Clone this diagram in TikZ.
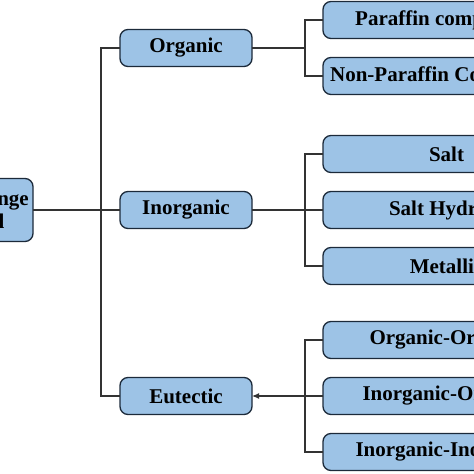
\documentclass[tikz,border=0pt]{standalone}
\usepackage{fontspec}
\setmainfont{Liberation Serif}
\usetikzlibrary{positioning,arrows.meta}
\definecolor{boxblue}{HTML}{9DC3E6}
\definecolor{boxline}{HTML}{1C2A3A}
\definecolor{connline}{HTML}{333333}

\begin{document}
\begin{tikzpicture}[x=1pt, y=-1pt, >={Latex[length=7pt,width=6pt]},
    box/.style={draw=boxline, fill=boxblue, line width=1.3pt, rectangle, rounded corners=8pt,
      font=\fontsize{21}{23.5}\selectfont\bfseries, align=center, inner sep=0pt, outer sep=0pt},
    midbox/.style={box, minimum width=132pt, minimum height=37pt},
    leafbox/.style={box, minimum width=247pt, minimum height=37pt},
    conn/.style={draw=connline, line width=1.1pt}]

  \useasboundingbox (0,0) rectangle (474,474);
  \clip (0,0) rectangle (474,474);

  \node[box, minimum width=135pt, minimum height=63pt] (pcm) at (-34.5,210) {Phase Change\\Material};

  \node[midbox] (org) at (186,48) {Organic};
  \node[midbox] (inorg) at (186,210) {Inorganic};
  \node[midbox] (eut) at (186,396) {Eutectic};

  \node[leafbox] (par) at (446.5,20) {Paraffin compounds};
  \node[leafbox, below=19pt of par] (npar) {Non-Paraffin Compounds};

  \node[leafbox] (salt) at (446.5,154) {Salt};
  \node[leafbox, below=19pt of salt] (hyd) {Salt Hydrate};
  \node[leafbox, below=19pt of hyd] (met) {Metallic};

  \node[leafbox] (oo) at (446.5,340) {Organic-Organic};
  \node[leafbox, below=19pt of oo] (io) {Inorganic-Organic};
  \node[leafbox, below=19pt of io] (ii) {Inorganic-Inorganic};

  % main branches
  \draw[conn] (pcm.east) -- (inorg.west);
  \draw[conn] (org.west) -- ++(-19,0) |- (eut.west);

  % sub branches
  \draw[conn] (org.east) -- ++(53,0);
  \draw[conn] (par.west) -- ++(-18,0) |- (npar.west);
  \draw[conn] (inorg.east) -- (hyd.west);
  \draw[conn] (salt.west) -- ++(-18,0) |- (met.west);
  \draw[conn, ->] (io.west) -- (eut.east);
  \draw[conn] (oo.west) -- ++(-18,0) |- (ii.west);
\end{tikzpicture}
\end{document}
